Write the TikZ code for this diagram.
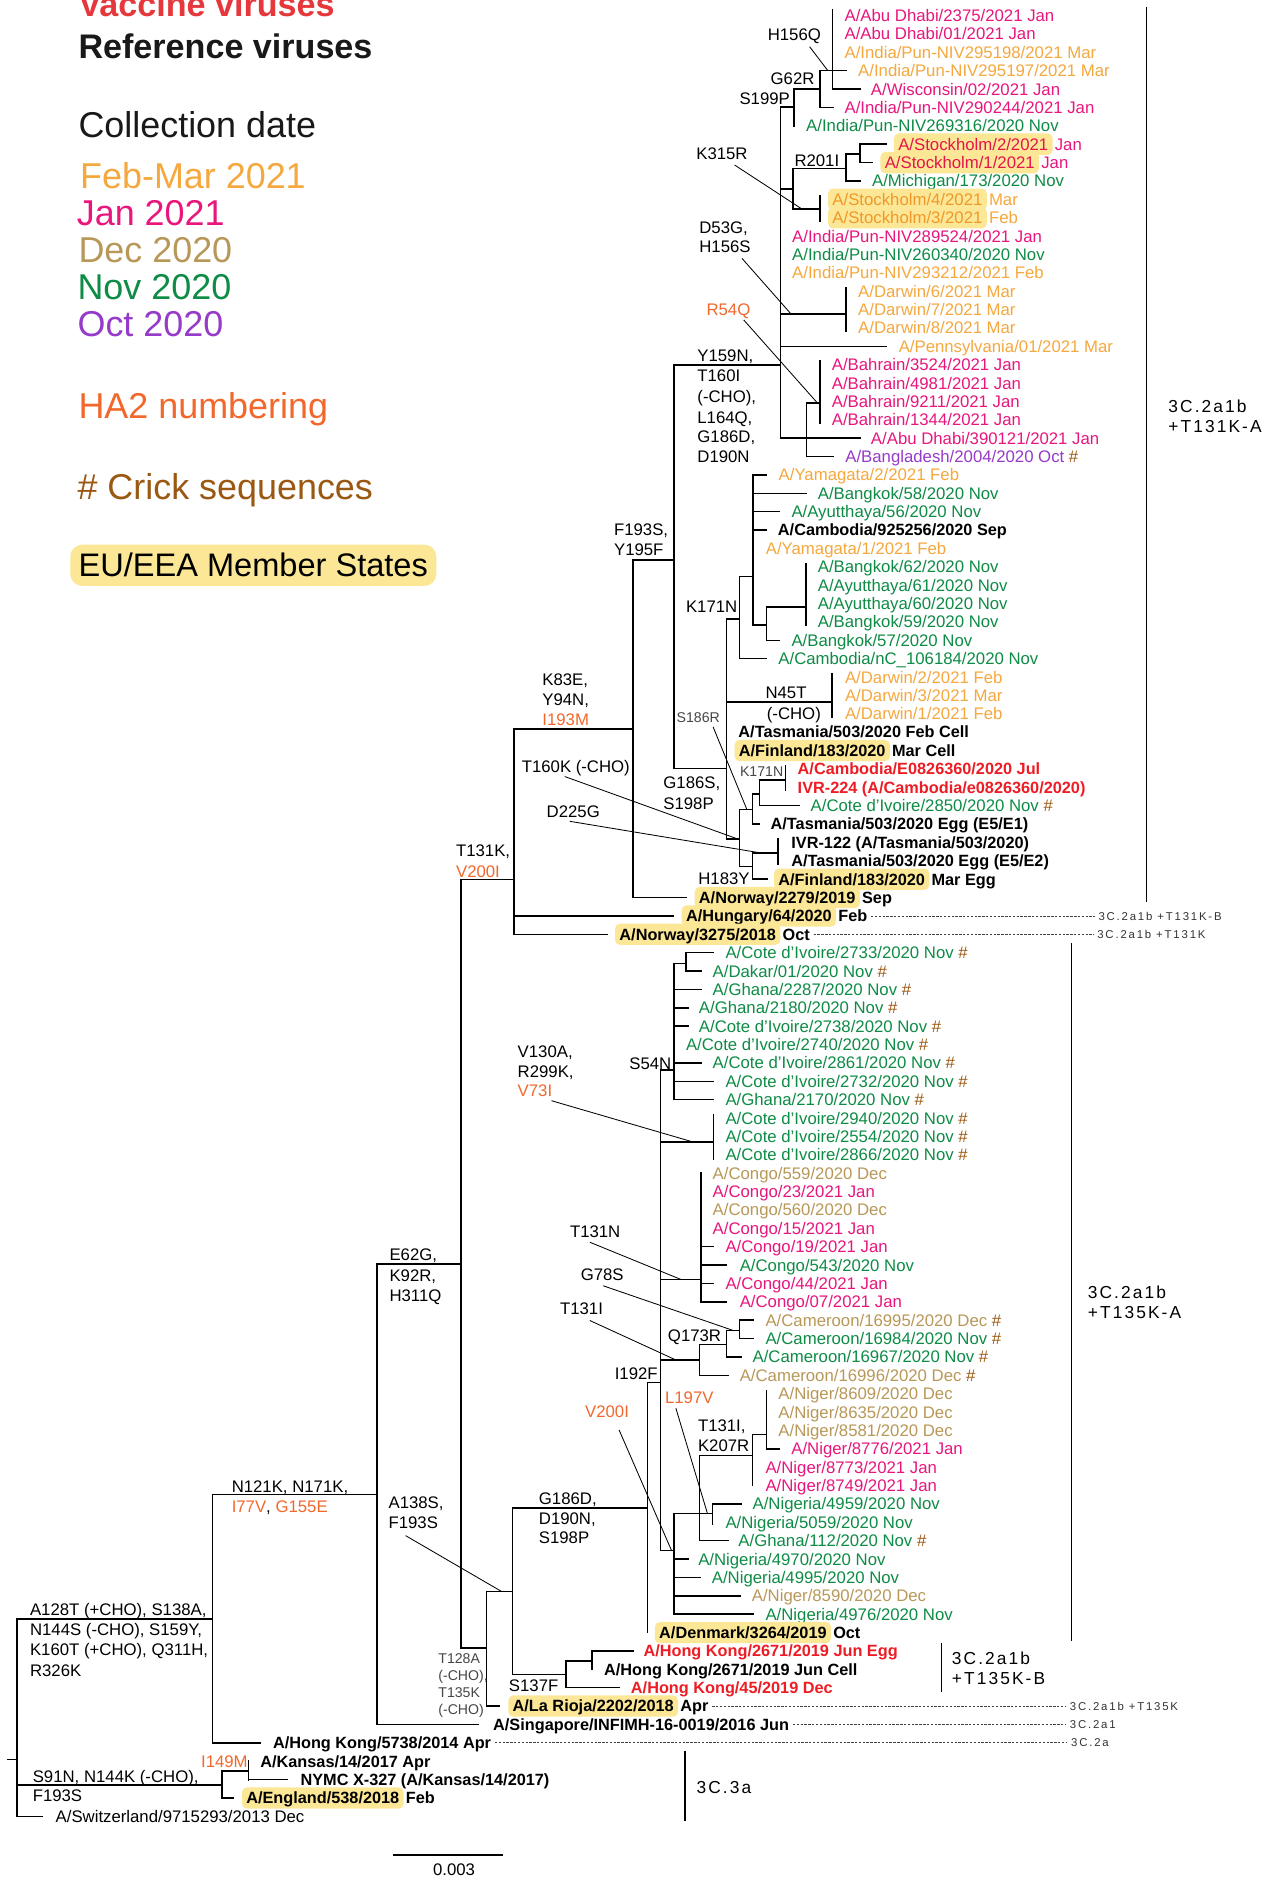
\documentclass[tikz,border=0pt]{standalone}
\usepackage{fontspec}
\setmainfont{Liberation Sans}
\newfontfamily\cladefont[LetterSpace=12]{Liberation Sans}
\newfontfamily\smallwide[LetterSpace=16]{Liberation Sans}
\definecolor{cOrg}{RGB}{245,168,62}
\definecolor{cMag}{RGB}{232,22,125}
\definecolor{cTan}{RGB}{184,152,88}
\definecolor{cGrn}{RGB}{14,140,70}
\definecolor{cPur}{RGB}{150,58,202}
\definecolor{cHA2}{RGB}{242,104,44}
\definecolor{cCrick}{RGB}{155,88,18}
\definecolor{cRed}{RGB}{238,28,36}
\definecolor{cVacL}{RGB}{230,55,60}
\definecolor{cHL}{RGB}{252,231,150}
\definecolor{cMagHL}{RGB}{227,21,75}
\definecolor{cOrgHL}{RGB}{240,152,40}
\definecolor{cGray}{RGB}{70,70,70}
\newcommand\lfn{\fontsize{14}{16}\selectfont}
\newcommand\lfb{\fontsize{13.6}{16}\selectfont\bfseries}
\newcommand\crk{\textcolor{cCrick}{\#}}
\newcommand\inode[6]{%
  \coordinate (#1) at (#3,#4);
  \coordinate (#1t) at (#3,#5);
  \coordinate (#1b) at (#3,#6);
  \draw[brn] (#2 |- #1) -- (#1);
  \draw[brn] (#1t) -- (#1b);}
\newcommand\leaf[7]{%
  \coordinate (t#1) at (#3,#4);
  \draw[brn] (#2 |- t#1) -- (t#1);
  \node[#6] (l#1) at (#5,#4) {#7};}
\newcommand\hleaf[9]{%
  \coordinate (t#1) at (#3,#4);
  \draw[brn] (#2 |- t#1) -- (t#1);
  \node[#6] (l#1) at (#5,#4) {#7};
  \node[#8] (l#1r) at ([xshift=1.5pt]l#1.east) {#9};}
\tikzset{
  brn/.style={line width=1.3pt, line cap=rect},
  ptrl/.style={line width=0.7pt},
  dshl/.style={line width=0.6pt, draw=black!75, dash pattern=on 2pt off 1.2pt},
  brk/.style={line width=1.3pt},
  lbase/.style={anchor=west, inner sep=0pt, text height=10pt, text depth=0pt, font=\lfn},
  lbbase/.style={anchor=west, inner sep=0pt, text height=9.7pt, text depth=0pt, font=\lfb},
  lmag/.style={lbase, text=cMag},
  lorg/.style={lbase, text=cOrg},
  ltan/.style={lbase, text=cTan},
  lgrn/.style={lbase, text=cGrn},
  lpur/.style={lbase, text=cPur},
  lblk/.style={lbase, text=black},
  lref/.style={lbbase, text=black},
  lvac/.style={lbbase, text=cRed},
  lhl/.style={lbase, fill=cHL, rounded corners=4pt, inner xsep=3.6pt, inner ysep=4pt},
  lhlb/.style={lbbase, fill=cHL, rounded corners=4pt, inner xsep=3.6pt, inner ysep=4pt, text=black},
  mutl/.style={lbase, text=black},
  muto/.style={lbase, text=cHA2},
  muts/.style={anchor=west, inner sep=0pt, text height=8.4pt, text depth=0pt, font=\fontsize{11.8}{13}\selectfont, text=cGray},
  smallc/.style={anchor=west, inner sep=0pt, text height=6.8pt, text depth=0pt, font=\smallwide\fontsize{9.5}{11}\selectfont, text=black!80},
  cladel/.style={anchor=west, inner sep=0pt, text height=10.4pt, text depth=0pt, font=\cladefont\fontsize{14.5}{16}\selectfont},
  leg/.style={anchor=base west, inner sep=0pt, font=\fontsize{30}{32}\selectfont},
}
\begin{document}
\begin{tikzpicture}[x=1pt,y=-1pt]
\fill[white] (0,0) rectangle (1064,1568);
\useasboundingbox (0,0) rectangle (1064,1568);

% ---------------- legend
\node[leg, font=\fontsize{28.5}{30}\selectfont\bfseries, text=cVacL] (lgV) at (65.4,13.4) {Vaccine viruses};
\node[leg, font=\fontsize{28.5}{30}\selectfont\bfseries, text=black!90] (lgR) at (65.4,48.6) {Reference viruses};
\node[leg, text=black!90] (lgC) at (65.4,115) {Collection date};
\node[leg, text=cOrg] (lgF) at (66.8,157.2) {Feb-Mar 2021};
\node[leg, text=cMag] (lgJ) at (64,188.6) {Jan 2021};
\node[leg, text=cTan] (lgD) at (65.4,219.2) {Dec 2020};
\node[leg, text=cGrn] (lgN) at (64.6,249.9) {Nov 2020};
\node[leg, text=cPur] (lgO) at (64.6,281.2) {Oct 2020};
\node[leg, text=cHA2] (lgH) at (65.4,350) {HA2 numbering};
\node[leg, text=cCrick] (lgK) at (64.6,417) {\# Crick sequences};
\node[leg, font=\fontsize{27.2}{29}\selectfont, fill=cHL, rounded corners=10pt, inner xsep=7pt, inner ysep=7.5pt, text height=19.5pt, text depth=0pt] (lgE) at (58.5,482) {EU/EEA Member States};

% ---------------- tree: internal nodes
\coordinate (nroot) at (14.4,1469.9);
\coordinate (rootstub) at (6.4,1469.9);
\coordinate (nroott) at (14.4,1352.4);
\coordinate (nrootb) at (14.4,1517.3);
\draw[brn] (rootstub) -- (nroot);
\draw[brn] (nroott) -- (nrootb);
\inode{nA128}{nroot}{177.4}{1352.4}{1248.5}{1455.9}
\inode{n314}{nA128}{314.8}{1248.5}{1056}{1440.55}
\inode{nE62}{n314}{385.1}{1056}{734.6}{1376.6}
\inode{nT131K}{nE62}{429.3}{734.6}{608.9}{780.5}
\inode{nK83E}{nT131K}{529}{608.9}{467.6}{749.8}
\inode{nF193}{nK83E}{562.9}{467.6}{304.9}{641.8}
\inode{nY159}{nF193}{651.9}{304.9}{89.5}{366.05}
\inode{nS199}{nY159}{663.2}{89.5}{74.4}{105.1}
\inode{nG62}{nS199}{684.9}{74.4}{59.05}{89.75}
\inode{nH156}{nG62}{695.3}{59.05}{8.4}{74.4}
\inode{nKR}{nY159}{662.6}{158.1}{140.6}{174.8}
\inode{nR201}{nKR}{706.9}{140.6}{128.6}{151.15}
\inode{nSto}{nR201}{718.2}{128.6}{120.45}{135.8}
\inode{nK315}{nKR}{684.9}{174.8}{163.5}{184.5}
\inode{nD53}{nY159}{706.9}{262.5}{240.5}{277}
\inode{nBah}{nY159}{673.9}{366.05}{336.8}{381.4}
\inode{nBahr}{nBah}{684.9}{336.8}{301.5}{353.5}
\inode{n607}{nF193}{606.9}{641.8}{517.1}{700.7}
\inode{nK171a}{n607}{617.8}{517.1}{481.6}{550.25}
\inode{n629}{nK171a}{628.9}{481.6}{396.75}{522}
\inode{n640}{n629}{640.2}{522}{507.2}{534.9}
\inode{n673}{n640}{673.3}{507.2}{471}{522.5}
\inode{nN45}{n607}{694.9}{586.5}{563}{599}
\inode{nG186S}{n607}{617.8}{700.7}{676.4}{723.8}
\inode{nB}{nG186S}{628.5}{676.4}{663.1}{688.4}
\inode{nE}{nB}{634.6}{663.1}{651.4}{673.05}
\inode{nK171b}{nE}{656.2}{651.4}{640}{660}
\inode{nC}{nG186S}{628.5}{723.8}{712.6}{734.45}
\inode{nD}{nC}{650}{712.6}{701}{722}
\inode{nT128}{nE62}{406.5}{1376.6}{1329.3}{1425.2}
\inode{nA138}{nT128}{428.3}{1329.3}{1259.7}{1398.9}
\inode{nG186D}{nA138}{540.9}{1259.7}{1155}{1363.8}
\inode{nI192}{nG186D}{551.8}{1155}{894}{1295.3}
\inode{nS54}{nI192}{562.9}{894}{805}{918.65}
\inode{n573}{nS54}{572.9}{805}{795.85}{811.2}
\inode{nV73}{nI192}{596.2}{954}{931}{968}
\inode{nCongo}{nI192}{585.5}{1069}{980.05}{1087.5}
\inode{nT131I}{nI192}{584.4}{1136.3}{1123.2}{1148.9}
\inode{nQ173}{nT131I}{607}{1123.2}{1111.6}{1133.55}
\inode{n618}{nQ173}{617.8}{1111.6}{1102.85}{1118.2}
\inode{nR}{nI192}{562.9}{1295.3}{1264.4}{1348.45}
\inode{nS}{nR}{584.4}{1264.4}{1216}{1287.05}
\inode{nT131Ib}{nS}{628.5}{1216}{1198.4}{1241}
\inode{nNiger}{nT131Ib}{640.4}{1198.4}{1162}{1210.3}
\inode{n595}{nS}{595.2}{1264.4}{1256.35}{1273}
\inode{nS137}{nA138}{473}{1398.9}{1387.7}{1409.85}
\inode{nHK}{nS137}{494.5}{1387.7}{1379.15}{1394.5}
\inode{nS91}{nroot}{185.4}{1491.3}{1479.6}{1501.95}
\inode{nI149}{nS91}{207.7}{1479.6}{1471.25}{1487.1}

% ---------------- leaves
\leaf{0}{nH156}{695.3}{13}{705.4}{lmag}{A/Abu Dhabi/2375/2021 Jan}
\leaf{1}{nH156}{695.3}{28.35}{705.4}{lmag}{A/Abu Dhabi/01/2021 Jan}
\leaf{2}{nH156}{695.3}{43.7}{705.4}{lorg}{A/India/Pun-NIV295198/2021 Mar}
\leaf{3}{nH156}{707}{59.05}{716.7}{lorg}{A/India/Pun-NIV295197/2021 Mar}
\leaf{4}{nH156}{718.2}{74.4}{727.4}{lmag}{A/Wisconsin/02/2021 Jan}
\leaf{5}{nG62}{696.2}{89.75}{705.4}{lmag}{A/India/Pun-NIV290244/2021 Jan}
\leaf{6}{nS199}{663.2}{105.1}{673.3}{lgrn}{A/India/Pun-NIV269316/2020 Nov}
\hleaf{7}{nSto}{740.5}{120.45}{746.6}{lhl,text=cMagHL}{A/Stockholm/2/2021}{lmag}{Jan}
\hleaf{8}{nSto}{728.9}{135.8}{735.3}{lhl,text=cMagHL}{A/Stockholm/1/2021}{lmag}{Jan}
\leaf{9}{nR201}{718.2}{151.15}{728.3}{lgrn}{A/Michigan/173/2020 Nov}
\hleaf{10}{nK315}{684.9}{166.5}{691.6}{lhl,text=cOrgHL}{A/Stockholm/4/2021}{lorg}{Mar}
\hleaf{11}{nK315}{684.9}{181.85}{691.6}{lhl,text=cOrgHL}{A/Stockholm/3/2021}{lorg}{Feb}
\leaf{12}{nY159}{651.9}{197.2}{661.6}{lmag}{A/India/Pun-NIV289524/2021 Jan}
\leaf{13}{nY159}{651.9}{212.55}{661.6}{lgrn}{A/India/Pun-NIV260340/2020 Nov}
\leaf{14}{nY159}{651.9}{227.9}{661.6}{lorg}{A/India/Pun-NIV293212/2021 Feb}
\leaf{15}{nD53}{706.9}{243.25}{716.7}{lorg}{A/Darwin/6/2021 Mar}
\leaf{16}{nD53}{706.9}{258.6}{716.7}{lorg}{A/Darwin/7/2021 Mar}
\leaf{17}{nD53}{706.9}{273.95}{716.7}{lorg}{A/Darwin/8/2021 Mar}
\leaf{18}{nY159}{740.5}{289.3}{750.6}{lorg}{A/Pennsylvania/01/2021 Mar}
\leaf{19}{nBahr}{684.9}{304.65}{694.7}{lmag}{A/Bahrain/3524/2021 Jan}
\leaf{20}{nBahr}{684.9}{320}{694.7}{lmag}{A/Bahrain/4981/2021 Jan}
\leaf{21}{nBahr}{684.9}{335.35}{694.7}{lmag}{A/Bahrain/9211/2021 Jan}
\leaf{22}{nBahr}{684.9}{350.7}{694.7}{lmag}{A/Bahrain/1344/2021 Jan}
\leaf{23}{nBah}{718.2}{366.05}{727.4}{lmag}{A/Abu Dhabi/390121/2021 Jan}
\leaf{24}{nBah}{696.2}{381.4}{706}{lpur}{A/Bangladesh/2004/2020 Oct \crk}
\leaf{25}{n629}{640.2}{396.75}{650.3}{lorg}{A/Yamagata/2/2021 Feb}
\leaf{26}{n629}{673.3}{412.1}{683}{lgrn}{A/Bangkok/58/2020 Nov}
\leaf{27}{n629}{651.2}{427.45}{661}{lgrn}{A/Ayutthaya/56/2020 Nov}
\leaf{28}{n629}{640.2}{442.8}{649.7}{lref}{A/Cambodia/925256/2020 Sep}
\leaf{29}{n629}{628.9}{458.15}{639.6}{lorg}{A/Yamagata/1/2021 Feb}
\leaf{30}{n673}{673.3}{473.5}{683}{lgrn}{A/Bangkok/62/2020 Nov}
\leaf{31}{n673}{673.3}{488.85}{683}{lgrn}{A/Ayutthaya/61/2020 Nov}
\leaf{32}{n673}{673.3}{504.2}{683}{lgrn}{A/Ayutthaya/60/2020 Nov}
\leaf{33}{n673}{673.3}{519.55}{683}{lgrn}{A/Bangkok/59/2020 Nov}
\leaf{34}{n640}{651.2}{534.9}{661}{lgrn}{A/Bangkok/57/2020 Nov}
\leaf{35}{nK171a}{640.4}{550.25}{650.1}{lgrn}{A/Cambodia/nC\_106184/2020 Nov}
\leaf{36}{nN45}{694.9}{565.6}{705.7}{lorg}{A/Darwin/2/2021 Feb}
\leaf{37}{nN45}{694.9}{580.95}{705.7}{lorg}{A/Darwin/3/2021 Mar}
\leaf{38}{nN45}{694.9}{596.3}{705.7}{lorg}{A/Darwin/1/2021 Feb}
\leaf{39}{n607}{606.9}{611.65}{616.7}{lref}{A/Tasmania/503/2020 Feb Cell}
\hleaf{40}{n607}{606.9}{627}{613.5}{lhlb}{A/Finland/183/2020}{lref}{Mar Cell}
\leaf{41}{nK171b}{656.2}{642.35}{666.2}{lvac}{A/Cambodia/E0826360/2020 Jul}
\leaf{42}{nK171b}{656.2}{657.7}{666.2}{lvac}{IVR-224 (A/Cambodia/e0826360/2020)}
\leaf{43}{nE}{668}{673.05}{677}{lgrn}{A/Cote d'Ivoire/2850/2020 Nov \crk}
\leaf{44}{nB}{634.6}{688.4}{643.6}{lref}{A/Tasmania/503/2020 Egg (E5/E1)}
\leaf{45}{nD}{650}{703.75}{660.9}{lref}{IVR-122 (A/Tasmania/503/2020)}
\leaf{46}{nD}{650}{719.1}{660.9}{lref}{A/Tasmania/503/2020 Egg (E5/E2)}
\hleaf{47}{nC}{641.1}{734.45}{646.5}{lhlb}{A/Finland/183/2020}{lref}{Mar Egg}
\hleaf{48}{nK83E}{573.5}{749.8}{580.1}{lhlb}{A/Norway/2279/2019}{lref}{Sep}
\hleaf{49}{nT131K}{562.1}{765.15}{569.3}{lhlb}{A/Hungary/64/2020}{lref}{Feb}
\hleaf{50}{nT131K}{507.6}{780.5}{513.7}{lhlb}{A/Norway/3275/2018}{lref}{Oct}
\leaf{51}{n573}{596.2}{795.85}{605.9}{lgrn}{A/Cote d'Ivoire/2733/2020 Nov \crk}
\leaf{52}{n573}{585.5}{811.2}{595.2}{lgrn}{A/Dakar/01/2020 Nov \crk}
\leaf{53}{nS54}{585.5}{826.55}{595.2}{lgrn}{A/Ghana/2287/2020 Nov \crk}
\leaf{54}{nS54}{574.7}{841.9}{583.7}{lgrn}{A/Ghana/2180/2020 Nov \crk}
\leaf{55}{nS54}{574.7}{857.25}{583.7}{lgrn}{A/Cote d'Ivoire/2738/2020 Nov \crk}
\leaf{56}{nS54}{562.9}{872.6}{572.9}{lgrn}{A/Cote d'Ivoire/2740/2020 Nov \crk}
\leaf{57}{nS54}{585.5}{887.95}{595.2}{lgrn}{A/Cote d'Ivoire/2861/2020 Nov \crk}
\leaf{58}{nS54}{596.2}{903.3}{605.9}{lgrn}{A/Cote d'Ivoire/2732/2020 Nov \crk}
\leaf{59}{nS54}{596.2}{918.65}{605.9}{lgrn}{A/Ghana/2170/2020 Nov \crk}
\leaf{60}{nV73}{596.2}{934}{605.9}{lgrn}{A/Cote d'Ivoire/2940/2020 Nov \crk}
\leaf{61}{nV73}{596.2}{949.35}{605.9}{lgrn}{A/Cote d'Ivoire/2554/2020 Nov \crk}
\leaf{62}{nV73}{596.2}{964.7}{605.9}{lgrn}{A/Cote d'Ivoire/2866/2020 Nov \crk}
\leaf{63}{nCongo}{585.5}{980.05}{595.2}{ltan}{A/Congo/559/2020 Dec}
\leaf{64}{nCongo}{585.5}{995.4}{595.2}{lmag}{A/Congo/23/2021 Jan}
\leaf{65}{nCongo}{585.5}{1010.75}{595.2}{ltan}{A/Congo/560/2020 Dec}
\leaf{66}{nCongo}{585.5}{1026.1}{595.2}{lmag}{A/Congo/15/2021 Jan}
\leaf{67}{nCongo}{596.2}{1041.45}{605.9}{lmag}{A/Congo/19/2021 Jan}
\leaf{68}{nCongo}{607}{1056.8}{617.8}{lgrn}{A/Congo/543/2020 Nov}
\leaf{69}{nCongo}{596.2}{1072.15}{605.9}{lmag}{A/Congo/44/2021 Jan}
\leaf{70}{nCongo}{607}{1087.5}{617.8}{lmag}{A/Congo/07/2021 Jan}
\leaf{71}{n618}{629.6}{1102.85}{639.3}{ltan}{A/Cameroon/16995/2020 Dec \crk}
\leaf{72}{n618}{629.6}{1118.2}{639.3}{lgrn}{A/Cameroon/16984/2020 Nov \crk}
\leaf{73}{nQ173}{618.9}{1133.55}{628.5}{lgrn}{A/Cameroon/16967/2020 Nov \crk}
\leaf{74}{nT131I}{608.1}{1148.9}{617.8}{ltan}{A/Cameroon/16996/2020 Dec \crk}
\leaf{75}{nNiger}{640.4}{1164.25}{650.1}{ltan}{A/Niger/8609/2020 Dec}
\leaf{76}{nNiger}{640.4}{1179.6}{650.1}{ltan}{A/Niger/8635/2020 Dec}
\leaf{77}{nNiger}{640.4}{1194.95}{650.1}{ltan}{A/Niger/8581/2020 Dec}
\leaf{78}{nNiger}{651.2}{1210.3}{660.9}{lmag}{A/Niger/8776/2021 Jan}
\leaf{79}{nT131Ib}{628.5}{1225.65}{639.3}{lmag}{A/Niger/8773/2021 Jan}
\leaf{80}{nT131Ib}{628.5}{1241}{639.3}{lmag}{A/Niger/8749/2021 Jan}
\leaf{81}{n595}{618.9}{1256.35}{628.5}{lgrn}{A/Nigeria/4959/2020 Nov}
\leaf{82}{n595}{595.2}{1271.7}{605.9}{lgrn}{A/Nigeria/5059/2020 Nov}
\leaf{83}{nS}{608.1}{1287.05}{616.7}{lgrn}{A/Ghana/112/2020 Nov \crk}
\leaf{84}{nR}{574.6}{1302.4}{583.1}{lgrn}{A/Nigeria/4970/2020 Nov}
\leaf{85}{nR}{585}{1317.75}{594.5}{lgrn}{A/Nigeria/4995/2020 Nov}
\leaf{86}{nR}{618.4}{1333.1}{627.9}{ltan}{A/Niger/8590/2020 Dec}
\leaf{87}{nR}{629.3}{1348.45}{639.3}{lgrn}{A/Nigeria/4976/2020 Nov}
\hleaf{88}{nG186D}{540.9}{1363.8}{546.9}{lhlb}{A/Denmark/3264/2019}{lref}{Oct}
\leaf{89}{nHK}{529.3}{1379.15}{537.4}{lvac}{A/Hong Kong/2671/2019 Jun Egg}
\leaf{90}{nHK}{494.5}{1394.5}{504.5}{lref}{A/Hong Kong/2671/2019 Jun Cell}
\leaf{91}{nS137}{517.4}{1409.85}{526.9}{lvac}{A/Hong Kong/45/2019 Dec}
\hleaf{92}{nT128}{417.1}{1425.2}{424.5}{lhlb}{A/La Rioja/2202/2018}{lref}{Apr}
\leaf{93}{n314}{399.5}{1440.55}{411.8}{lref}{A/Singapore/INFIMH-16-0019/2016 Jun}
\leaf{94}{nA128}{217.3}{1455.9}{227.9}{lref}{A/Hong Kong/5738/2014 Apr}
\leaf{95}{nI149}{207.7}{1471.25}{217.3}{lref}{A/Kansas/14/2017 Apr}
\leaf{96}{nI149}{240.3}{1486.6}{250.9}{lref}{NYMC X-327 (A/Kansas/14/2017)}
\hleaf{97}{nS91}{195}{1501.95}{202}{lhlb}{A/England/538/2018}{lref}{Feb}
\leaf{98}{nroot}{35.2}{1517.3}{46.3}{lblk}{A/Switzerland/9715293/2013 Dec}

% ---------------- mutation labels
\node[mutl] (mH156) at (641.2,29.2) {H156Q};
\node[mutl] (mG62) at (643.6,66) {G62R};
\node[mutl] (mS199) at (617.6,82.7) {S199P};
\node[mutl] (mK315) at (581.5,128.6) {K315R};
\node[mutl] (mR201) at (663.5,134.5) {R201I};
\node[mutl] (mD53a) at (584,190) {D53G,};
\node[mutl] (mD53b) at (584,206) {H156S};
\node[muto] (mR54) at (590,258.4) {R54Q};
\node[mutl] (mY1) at (582.4,297.2) {Y159N,};
\node[mutl] (mY2) at (582.4,313.9) {T160I};
\node[mutl] (mY3) at (582.4,331.2) {(-CHO),};
\node[mutl] (mY4) at (582.4,348.5) {L164Q,};
\node[mutl] (mY5) at (582.4,364.8) {G186D,};
\node[mutl] (mY6) at (582.4,381.4) {D190N};
\node[mutl] (mF1) at (512.8,442.7) {F193S,};
\node[mutl] (mF2) at (512.8,459.3) {Y195F};
\node[mutl] (mK171a) at (572.9,506.8) {K171N};
\node[mutl] (mK83a) at (452.9,567.4) {K83E,};
\node[mutl] (mK83b) at (452.9,584.7) {Y94N,};
\node[muto] (mK83c) at (452.9,601.3) {I193M};
\node[mutl] (mN45a) at (639.3,578.4) {N45T};
\node[mutl] (mN45b) at (640.4,595.7) {(-CHO)};
\node[muts] (mS186) at (565.1,599.6) {S186R};
\node[mutl] (mT160) at (435.7,640.1) {T160K (-CHO)};
\node[muts] (mK171b) at (618,644.2) {K171N};
\node[mutl] (mG186Sa) at (554,653.9) {G186S,};
\node[mutl] (mG186Sb) at (554,671.3) {S198P};
\node[mutl] (mD225) at (456.5,678.2) {D225G};
\node[mutl] (mH183) at (583.2,733.6) {H183Y};
\node[mutl] (mT131Ka) at (380.8,710.4) {T131K,};
\node[muto] (mT131Kb) at (380.8,727.7) {V200I};
\node[mutl] (mV130a) at (432.3,878.6) {V130A,};
\node[mutl] (mV130b) at (432.3,895.1) {R299K,};
\node[muto] (mV130c) at (432.3,911.3) {V73I};
\node[mutl] (mS54) at (525.6,888.2) {S54N};
\node[mutl] (mT131N) at (476,1028.8) {T131N};
\node[mutl] (mG78) at (485,1064.8) {G78S};
\node[mutl] (mT131I) at (467.7,1092.9) {T131I};
\node[mutl] (mQ173) at (557.8,1115.7) {Q173R};
\node[mutl] (mI192) at (513.4,1147.5) {I192F};
\node[muto] (mL197) at (555.4,1167.5) {L197V};
\node[muto] (mV200b) at (488.6,1179) {V200I};
\node[mutl] (mT131Ia) at (582.9,1190.9) {T131I,};
\node[mutl] (mT131Ib) at (582.9,1207.6) {K207R};
\node[mutl] (mE62a) at (325.2,1048.3) {E62G,};
\node[mutl] (mE62b) at (325.2,1065.8) {K92R,};
\node[mutl] (mE62c) at (325.2,1082.3) {H311Q};
\node[mutl] (mA138a) at (324.4,1255.5) {A138S,};
\node[mutl] (mA138b) at (324.4,1272.2) {F193S};
\node[mutl] (mG186Da) at (450,1252.2) {G186D,};
\node[mutl] (mG186Db) at (450,1268.9) {D190N,};
\node[mutl] (mG186Dc) at (450,1284.7) {S198P};
\node[mutl] (mN121a) at (193.4,1241.6) {N121K, N171K,};
\node[mutl] (mN121b) at (193.4,1258.3) {\textcolor{cHA2}{I77V}, \textcolor{cHA2}{G155E}};
\node[mutl] (mA128a) at (24.9,1344.6) {A128T (+CHO), S138A,};
\node[mutl] (mA128b) at (24.9,1361.3) {N144S (-CHO), S159Y,};
\node[mutl] (mA128c) at (24.9,1378) {K160T (+CHO), Q311H,};
\node[mutl] (mA128d) at (24.9,1395.3) {R326K};
\node[muts] (mT128a) at (366,1385.8) {T128A};
\node[muts] (mT128b) at (366,1399.7) {(-CHO),};
\node[muts] (mT128c) at (366,1413.6) {T135K};
\node[muts] (mT128d) at (366,1428.1) {(-CHO)};
\node[mutl] (mS137) at (425,1408) {S137F};
\node[muto] (mI149) at (167.8,1471.3) {I149M};
\node[mutl] (mS91a) at (27.2,1483.8) {S91N, N144K (-CHO),};
\node[mutl] (mS91b) at (27.2,1500) {F193S};

% ---------------- pointer lines
\coordinate (pa1) at (676.3,39);    \coordinate (pb1) at (691.6,59.05);
\coordinate (pa2) at (613.6,137.8); \coordinate (pb2) at (670.2,174.8);
\coordinate (pa3) at (619.8,215.8); \coordinate (pb3) at (661,262.5);
\coordinate (pa4) at (621.3,267.3); \coordinate (pb4) at (683,336.8);
\coordinate (pa5) at (595.7,607.2); \coordinate (pb5) at (624,676.4);
\coordinate (pa6) at (471.8,648.7); \coordinate (pb6) at (615.8,700.7);
\coordinate (pa7) at (476,686.1);   \coordinate (pb7) at (636.1,712.6);
\coordinate (pa8) at (460.7,919.5); \coordinate (pb8) at (579,954);
\coordinate (pa9) at (492.7,1037.7); \coordinate (pb9) at (569.3,1069);
\coordinate (pa10) at (503.9,1074.1); \coordinate (pb10) at (613,1111.6);
\coordinate (pa11) at (492.7,1103.1); \coordinate (pb11) at (565.1,1136.3);
\coordinate (pa12) at (564.6,1176.4); \coordinate (pb12) at (591,1264.4);
\coordinate (pa13) at (517.2,1194.6); \coordinate (pb13) at (561,1295.3);
\coordinate (pa14) at (338.8,1282.8); \coordinate (pb14) at (418.7,1329.3);
\foreach \i in {1,...,14} { \draw[ptrl] (pa\i) -- (pb\i); }

% ---------------- clade labels and dashed leaders
\node[smallc] (c49) at (917.5,765.15) {3C.2a1b +T131K-B};
\node[smallc] (c50) at (916.5,780.5) {3C.2a1b +T131K};
\node[smallc] (c92) at (893.6,1425.2) {3C.2a1b +T135K};
\node[smallc] (c93) at (893.6,1440.55) {3C.2a1};
\node[smallc] (c94) at (894.6,1455.9) {3C.2a};
\draw[dshl] ([xshift=3pt]l49r.east) -- ([xshift=-3pt]c49.west);
\draw[dshl] ([xshift=3pt]l50r.east) -- ([xshift=-3pt]c50.west);
\draw[dshl] ([xshift=3pt]l92r.east) -- ([xshift=-3pt]c92.west);
\draw[dshl] ([xshift=3pt]l93.east) -- ([xshift=-3pt]c93.west);
\draw[dshl] ([xshift=3pt]l94.east) -- ([xshift=-3pt]c94.west);

\coordinate (bAt) at (957.7,5.6);   \coordinate (bAb) at (957.7,753.8);
\coordinate (bBt) at (895,788);     \coordinate (bBb) at (895,1371);
\coordinate (bCt) at (786.4,1372.5); \coordinate (bCb) at (786.4,1413.7);
\coordinate (bDt) at (572.2,1463);  \coordinate (bDb) at (572.2,1521.4);
\draw[brk] (bAt) -- (bAb);
\draw[brk] (bBt) -- (bBb);
\draw[brk] (bCt) -- (bCb);
\draw[brk] (bDt) -- (bDb);
\node[cladel] (kA1) at (975.9,339) {3C.2a1b};
\node[cladel] (kA2) at (975.9,355.7) {+T131K-A};
\node[cladel] (kB1) at (908.6,1079.5) {3C.2a1b};
\node[cladel] (kB2) at (908.6,1096.2) {+T135K-A};
\node[cladel] (kC1) at (795,1385) {3C.2a1b};
\node[cladel] (kC2) at (795,1401.7) {+T135K-B};
\node[cladel] (kD1) at (581.7,1492.7) {3C.3a};

% ---------------- scale bar
\coordinate (sb1) at (327.9,1549.5);
\coordinate (sb2) at (419.8,1549.5);
\draw[line width=1.2pt] (sb1) -- (sb2);
\node[lbase, anchor=center] (sbl) at (379.3,1561.5) {0.003};
\end{tikzpicture}
\end{document}
